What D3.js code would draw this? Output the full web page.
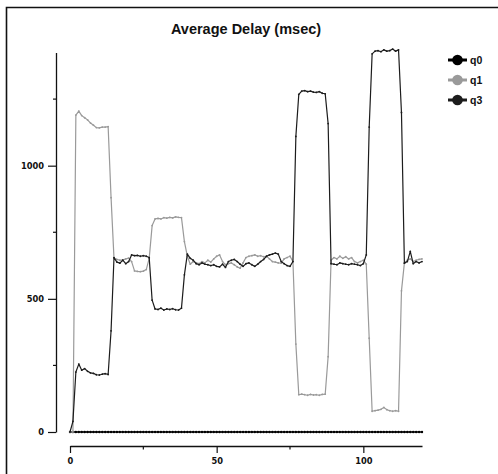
<!DOCTYPE html>
<html>
<head>
<meta charset="utf-8">
<script src="https://cdn.jsdelivr.net/npm/d3@7"></script>
<style>
  html, body { margin: 0; padding: 0; background: #fff; }
  svg { display: block; }
</style>
</head>
<body>
<svg id="chart" width="498" height="474"></svg>
<script>
// ---------- data ----------
const title = "Average Delay (msec)";
const seriesNames = ["q0", "q1", "q3"];
const xValues = d3.range(0, 121); // sample index 0..120
const q0 = new Array(121).fill(0);
const q1 = [
  0, 0, 1190, 1205, 1188, 1180, 1172, 1160, 1152, 1143,
  1142, 1145, 1145, 1147, 880, 652, 648, 645, 646, 650,
  653, 640, 605, 603, 602, 604, 610, 652, 775, 800,
  802, 800, 805, 803, 806, 804, 808, 806, 805, 715,
  660, 630, 640, 635, 632, 640, 635, 645, 638, 650,
  660, 665, 640, 628, 632, 635, 628, 620, 615, 635,
  655, 660, 662, 665, 660, 662, 658, 660, 650, 640,
  638, 635, 634, 650, 655, 660, 640, 330, 140, 142,
  140, 138, 141, 139, 140, 138, 141, 142, 283, 645,
  655, 650, 660, 652, 658, 650, 655, 640, 635, 640,
  645, 630, 352, 78, 80, 82, 85, 92, 84, 80,
  78, 80, 78, 530, 635, 645, 650, 640, 645, 648,
  650
];
const q3 = [
  0, 40, 225, 255, 232, 238, 228, 222, 220, 215,
  214, 217, 219, 216, 380, 655, 638, 634, 645, 632,
  640, 665, 662, 663, 660, 662, 660, 655, 495, 462,
  460, 465, 458, 462, 460, 463, 459, 458, 465, 590,
  668, 652, 645, 632, 628, 635, 630, 628, 625, 628,
  622, 620, 630, 618, 640, 645, 648, 640, 630, 622,
  632, 635, 628, 622, 630, 640, 648, 660, 665, 668,
  672, 668, 640, 632, 625, 622, 640, 1110, 1268, 1280,
  1282, 1278, 1280, 1276, 1275, 1278, 1272, 1270, 1158, 632,
  630, 628, 635, 632, 630, 628, 632, 630, 628, 625,
  632, 665, 1145, 1420, 1430, 1432, 1428, 1435, 1430, 1432,
  1438, 1430, 1435, 1200, 634, 640, 678, 632, 640, 635,
  640
];
const xTicks = [0, 50, 100];
const xMinorTicks = [25, 75];
const yTicks = [0, 500, 1000];
const yMinorTicks = [250, 750, 1250];
const colors = { q0: "#000000", q1: "#9a9a9a", q3: "#1c1c1c" };

// ---------- chart ----------
const svg = d3.select("#chart");

// frame (top and left edges)
svg.append("path")
  .attr("d", "M6.5,474 V7.5 H498")
  .attr("fill", "none")
  .attr("stroke", "#111")
  .attr("stroke-width", 1.6);

const x = d3.scaleLinear().domain([0, 120]).range([70, 422]);
const y = d3.scaleLinear().domain([0, 1425]).range([432, 52.5]);

const tickFont = "bold 8.3px 'DejaVu Sans', Verdana, sans-serif";

// Y axis
const yAxis = svg.append("g")
  .attr("transform", "translate(56,0)")
  .call(d3.axisLeft(y).tickValues(yTicks).tickSize(8).tickSizeOuter(0).tickPadding(4).tickFormat(d3.format("d")));
yAxis.select(".domain").attr("stroke", "#111").attr("stroke-width", 1.3);
yAxis.selectAll(".tick line").attr("stroke", "#111").attr("stroke-width", 1.2);
yAxis.selectAll(".tick text").style("font", tickFont).attr("fill", "#111");
yAxis.selectAll(".minor").data(yMinorTicks).enter().append("line")
  .attr("class", "minor")
  .attr("x1", -3).attr("x2", 0)
  .attr("y1", d => y(d)).attr("y2", d => y(d))
  .attr("stroke", "#111").attr("stroke-width", 1.2);

// X axis
const xAxis = svg.append("g")
  .attr("transform", "translate(0,446)")
  .call(d3.axisBottom(x).tickValues(xTicks).tickSize(7).tickSizeOuter(0).tickPadding(5));
xAxis.select(".domain").attr("stroke", "#111").attr("stroke-width", 1.3);
xAxis.selectAll(".tick line").attr("stroke", "#111").attr("stroke-width", 1.2);
xAxis.selectAll(".tick text").style("font", tickFont).attr("fill", "#111");
xAxis.selectAll(".minor").data(xMinorTicks).enter().append("line")
  .attr("class", "minor")
  .attr("x1", d => x(d)).attr("x2", d => x(d))
  .attr("y1", 0).attr("y2", 3.5)
  .attr("stroke", "#111").attr("stroke-width", 1.2);

// Title
svg.append("text")
  .attr("x", 246).attr("y", 33.5)
  .attr("text-anchor", "middle")
  .style("font", "bold 14.5px 'Liberation Sans', Arial, sans-serif")
  .attr("fill", "#111")
  .text(title);

// Series
const seriesData = { q0: q0, q1: q1, q3: q3 };
const line = d3.line().x((d, i) => x(xValues[i])).y(d => y(d));

seriesNames.forEach(name => {
  const vals = seriesData[name];
  const g = svg.append("g");
  g.append("path")
    .datum(vals)
    .attr("d", line)
    .attr("fill", "none")
    .attr("stroke", colors[name])
    .attr("stroke-width", name === "q0" ? 1.3 : 1.2)
    .attr("stroke-linejoin", "round");
  g.selectAll("circle").data(vals).enter().append("circle")
    .attr("cx", (d, i) => x(xValues[i]))
    .attr("cy", d => y(d))
    .attr("r", name === "q0" ? 1.2 : 0.9)
    .attr("fill", colors[name]);
});

// Legend
const legendY = [60, 80, 100];
const legend = svg.append("g");
seriesNames.forEach((name, i) => {
  const gy = legendY[i];
  legend.append("line")
    .attr("x1", 448).attr("x2", 467)
    .attr("y1", gy).attr("y2", gy)
    .attr("stroke", colors[name]).attr("stroke-width", 3);
  legend.append("circle")
    .attr("cx", 457.5).attr("cy", gy).attr("r", 5.3)
    .attr("fill", colors[name]);
  legend.append("text")
    .attr("x", 470).attr("y", gy)
    .attr("dy", "0.35em")
    .style("font", "bold 10.5px 'Liberation Sans', Arial, sans-serif")
    .attr("fill", "#111")
    .text(name);
});
</script>
</body>
</html>
